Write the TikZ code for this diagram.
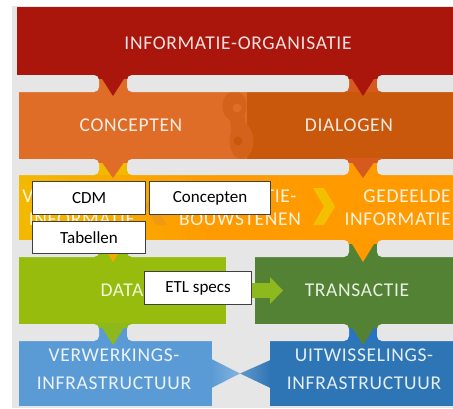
\documentclass[tikz,border=0pt]{standalone}
\usepackage{fontspec}
\setmainfont{Carlito}
\newfontfamily\bandfont[LetterSpace=3.5]{Carlito}
\definecolor{bggray}{HTML}{E6E6E6}
\definecolor{cred}{HTML}{AA150C}
\definecolor{corL}{HTML}{E06D27}
\definecolor{corM}{HTML}{D5621A}
\definecolor{corR}{HTML}{C9580C}
\definecolor{corT}{HTML}{D65A1E}
\definecolor{ylwL}{HTML}{F3B900}
\definecolor{ylwR}{HTML}{FF9A00}
\definecolor{ylwA}{HTML}{F5AA00}
\definecolor{chevY}{HTML}{F2C000}
\definecolor{chevO}{HTML}{F09A14}
\definecolor{grnL}{HTML}{97BC0D}
\definecolor{grnA}{HTML}{8DB81E}
\definecolor{grnR}{HTML}{548235}
\definecolor{bluL}{HTML}{5B9BD5}
\definecolor{bluR}{HTML}{2E75B6}
\definecolor{bluB}{HTML}{2A72C2}
\newcommand\myjunc[5]{% x, bot, top, upper colour, lower colour
  \fill[#5] ({#1-20},#2) rectangle ({#1+20},#3);
  \fill[#4] ({#1-20},{#2-1}) rectangle ({#1+20},{#2+4});
}
\newcommand\mytri[4]{% x, bot, tip, colour
  \fill[#4] ({#1-14},{#2-1}) -- ({#1+14},{#2-1}) -- (#1,#3) -- cycle;
}
\newcommand\mygap[2]{% bot, top
  \fill[bggray, rounded corners=5pt] (12,#1) rectangle (99,#2);
  \fill[bggray, rounded corners=5pt] (127,#1) rectangle (349,#2);
  \fill[bggray, rounded corners=5pt] (377,#1) rectangle (470,#2);
}
\begin{document}
\begin{tikzpicture}[x=1pt,y=-1pt,
  bandtxt/.style={font=\bandfont\fontsize{19.5}{23}\selectfont, text=white, text opacity=0.88, align=center, inner sep=0pt},
  boxnode/.style={draw=black!75, line width=1.1pt, fill=white, font=\fontsize{17}{20}\selectfont, text=black, inner sep=0pt, anchor=north west}]
\useasboundingbox (0,0) rectangle (453,408);
\fill[white] (0,0) rectangle (453,408);
\fill[bggray] (12,6) rectangle (453,408);

% bands
\fill[cred] (17,7) rectangle (453,75);
\fill[corL] (19,92) rectangle (247,159);
\fill[corR] (247,92) rectangle (453,159);
\begin{scope}
  \clip (19,92) rectangle (453,159);
  \fill[corM] (234.5,106) ellipse [x radius=12, y radius=15];
  \fill[corM] (241.5,141) ellipse [x radius=12, y radius=18];
  \draw[corM, line width=15pt, line cap=round] (236,110) -- (240,137);
  \fill[corL] (237,108) circle (4.5);
  \fill[corR] (238,141) circle (4.5);
\end{scope}
\shade[left color=ylwL, right color=ylwR] (19,175) rectangle (215,240);
\fill[ylwR] (214.5,175) rectangle (453,240);
\fill[chevO] (167,188) -- (156,188) -- (145,206.5) -- (156,225) -- (167,225) -- (156,206.5) -- cycle;
\fill[chevY] (313,188) -- (324,188) -- (335,206.5) -- (324,225) -- (313,225) -- (324,206.5) -- cycle;
\fill[grnL] (19,257) rectangle (226,324);
\fill[grnR] (255,257) rectangle (453,324);
\fill[bluL] (19,341) rectangle (212,406);
\fill[bluR] (270,341) rectangle (453,406);
\shade[left color=bluL, right color=bluL!75!white] (211.5,359) -- (240,373.5) -- (211.5,388) -- cycle;
\shade[left color=bluR!75!white, right color=bluR] (270.5,360) -- (240,373.5) -- (270.5,388) -- cycle;

% junction columns
\myjunc{113}{75}{92}{cred}{corL}
\myjunc{363}{75}{92}{cred}{corT}
\myjunc{113}{159}{175}{corL}{ylwL}
\myjunc{363}{159}{175}{corT}{ylwR}
\myjunc{113}{240}{257}{ylwA}{grnL}
\myjunc{363}{240}{257}{ylwR}{grnR}
\myjunc{113}{324}{341}{grnA}{bluL}
\myjunc{363}{324}{341}{grnR}{bluB}
% gaps with rounded ends
\mygap{75}{92}
\mygap{159}{175}
\mygap{240}{257}
\mygap{324}{341}
% arrow heads
\mytri{113}{75}{96}{cred}
\mytri{363}{75}{96}{cred}
\mytri{113}{159}{178}{corL}
\mytri{363}{159}{178}{corT}
\mytri{113}{240}{262}{ylwA}
\mytri{363}{240}{262}{ylwR}
\mytri{113}{324}{345}{grnA}
\mytri{363}{324}{345}{grnR}

% green arrow
\fill[grnA] (226,283) rectangle (270.5,298);
\fill[grnA] (270,277) -- (283,290.5) -- (270,304) -- cycle;

% band texts
\node[bandtxt] (org) at (238,43) {INFORMATIE-ORGANISATIE};
\node[bandtxt] (conc) at (131,125) {CONCEPTEN};
\node[bandtxt] (dial) at (349,125) {DIALOGEN};
\node[bandtxt] (vast) at (82,208) {VASTGELEGDE\\INFORMATIE};
\node[bandtxt] (bouw) at (240,208) {INFORMATIE-\\BOUWSTENEN};
\node[bandtxt, align=right, anchor=east] (gede) at (451,208) {GEDEELDE\\INFORMATIE};
\node[bandtxt] (data) at (122,290) {DATA};
\node[bandtxt] (trans) at (357,290) {TRANSACTIE};
\node[bandtxt, font=\bandfont\fontsize{19.5}{28}\selectfont] (verw) at (114,369) {VERWERKINGS-\\INFRASTRUCTUUR};
\node[bandtxt, font=\bandfont\fontsize{19.5}{28}\selectfont] (uitw) at (364,369) {UITWISSELINGS-\\INFRASTRUCTUUR};

% white label boxes
\node[boxnode, minimum width=113pt, minimum height=33pt] (cdm) at (32,181) {CDM};
\node[boxnode, minimum width=121pt, minimum height=33pt] (cpt) at (149,181) {Concepten};
\node[boxnode, minimum width=113pt, minimum height=32pt] (tab) at (32,221) {Tabellen};
\node[boxnode, minimum width=107pt, minimum height=33pt] (etl) at (144,271) {ETL specs};
\end{tikzpicture}
\end{document}
